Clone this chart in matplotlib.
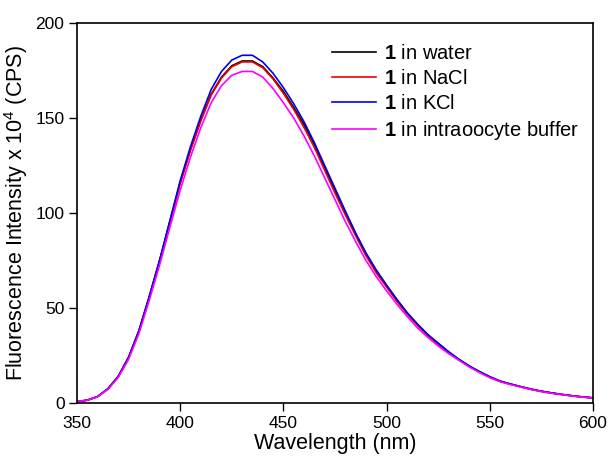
import numpy as np
import matplotlib
matplotlib.use("Agg")
import matplotlib.pyplot as plt

plt.rcParams['font.family'] = ['Liberation Sans', 'DejaVu Sans']
plt.rcParams['mathtext.fontset'] = 'custom'
plt.rcParams['mathtext.rm'] = 'Liberation Sans'
plt.rcParams['mathtext.bf'] = 'Liberation Sans:bold'

# wavelength grid (nm)
wavelength = list(range(350, 601, 5))

# intensities (x 10^4 CPS)
water = [0.7, 1.5, 3.4, 7.5, 14, 24, 38, 56, 75, 95.5, 116, 133.5, 149, 162.5, 171.5, 177.5,
         180, 180, 177, 171, 164, 155.5, 146.5, 136, 124, 112, 100.5, 89, 78.5, 69.5,
         61.8, 54.3, 47.3, 41.3, 35.8, 31.3, 26.9, 23, 19.5, 16.5, 13.8, 11.5, 10, 8.6,
         7.3, 6.2, 5.3, 4.5, 3.8, 3.2, 2.7]
nacl = [0.7, 1.5, 3.4, 7.5, 14, 24, 38, 55.5, 74.5, 95, 115.5, 133, 148.5, 162, 171, 177,
        179.5, 179.5, 176.5, 170.5, 163, 154.5, 145, 134.5, 122.5, 110.5, 99, 88, 77.5, 68.5,
        61, 53.5, 46.8, 40.8, 35.4, 31, 26.6, 22.8, 19.3, 16.3, 13.6, 11.4, 9.9, 8.5,
        7.2, 6.1, 5.2, 4.4, 3.7, 3.1, 2.7]
kcl = [0.7, 1.5, 3.4, 7.5, 14, 24, 38, 56, 75, 96, 117, 135, 151, 165, 174.5, 180.5,
       183, 183, 179.5, 173.5, 166, 157.5, 148, 137, 125, 113, 101, 89.5, 79, 70,
       62, 54.5, 47.5, 41.5, 36, 31.5, 27, 23, 19.5, 16.5, 13.8, 11.5, 10, 8.6,
       7.3, 6.2, 5.3, 4.5, 3.8, 3.2, 2.7]
buffer = [0.7, 1.5, 3.3, 7.2, 13.5, 23, 36.5, 54, 72.5, 92.5, 112, 129.5, 145, 158, 167, 172.5,
          174.5, 174.5, 171.5, 165.5, 158, 150, 140.5, 130, 118.5, 107, 95.5, 85, 75, 66.5,
          59, 52, 45.5, 39.5, 34.5, 30, 26, 22.5, 19, 16, 13.3, 11.2, 9.7, 8.4,
          7.1, 6, 5.1, 4.4, 3.7, 3.1, 2.6]

labels = [r'$\mathbf{1}$ in water', r'$\mathbf{1}$ in NaCl',
          r'$\mathbf{1}$ in KCl', r'$\mathbf{1}$ in intraoocyte buffer']
colors = ['black', '#ee0000', '#0000ee', '#ff00ff']

fig = plt.figure(figsize=(6.11, 4.57), dpi=100)
ax = fig.add_axes([77/611, 1-403/457, 516/611, 380/457])

for y, lab, c in zip([water, nacl, kcl, buffer], labels, colors):
    ax.plot(wavelength, y, color=c, lw=1.2, label=lab)

ax.set_xlim(350, 600)
ax.set_ylim(0, 200)
ax.set_xticks([350, 400, 450, 500, 550, 600])
ax.set_yticks([0, 50, 100, 150, 200])
ax.tick_params(direction='out', length=6, width=1, labelsize=12.5, pad=3)
for s in ax.spines.values():
    s.set_linewidth(1.2)
ax.xaxis.get_major_ticks()[0].tick1line.set_visible(False)

ax.set_xlabel('Wavelength (nm)', fontsize=15.5, labelpad=2)
ax.set_ylabel(r'Fluorescence Intensity x 10$^{4}$ (CPS)', fontsize=15.5, labelpad=4)

ax.legend(loc='upper left', bbox_to_anchor=(332/611, 1-44/457), bbox_transform=fig.transFigure,
          frameon=False, fontsize=14.5, handlelength=2.2, handletextpad=0.4,
          labelspacing=0.3, borderpad=0, borderaxespad=0)

plt.savefig("out.png", dpi=100)
